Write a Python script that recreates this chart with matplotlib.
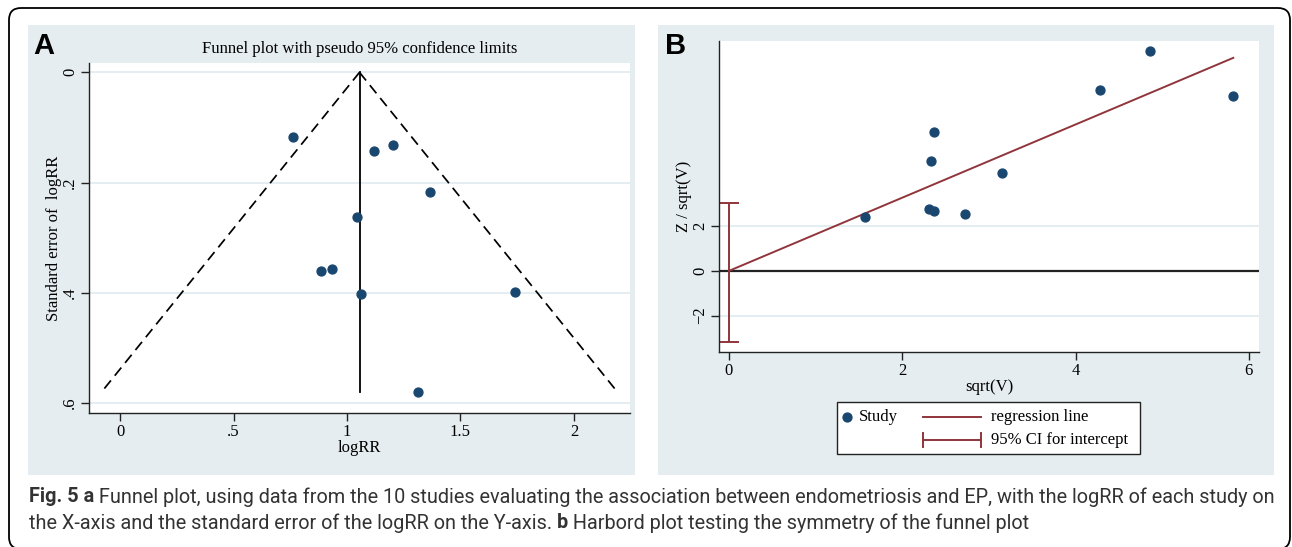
import matplotlib
matplotlib.use("Agg")
import matplotlib.pyplot as plt
from matplotlib.patches import FancyBboxPatch, Rectangle
from matplotlib.lines import Line2D
from matplotlib.transforms import IdentityTransform
from matplotlib import font_manager
import numpy as np

# ---------------- data ----------------
funnel_logrr = [0.764, 1.118, 1.204, 1.364, 1.044, 0.885, 0.933, 1.062, 1.740, 1.313]
funnel_se = [0.117, 0.143, 0.132, 0.217, 0.262, 0.361, 0.357, 0.402, 0.399, 0.580]
pooled_logrr = 1.055

harbord_sqrtv = [1.573, 2.305, 2.371, 2.721, 2.329, 2.362, 3.155, 4.280, 4.861, 5.820]
harbord_zv = [2.40, 2.76, 2.67, 2.55, 4.93, 6.22, 4.39, 8.12, 9.85, 7.84]
reg_intercept = 0.0
reg_slope = 1.64
ci_intercept = [-3.20, 3.06]

a_xticks = [0, 0.5, 1, 1.5, 2]
a_xticklabels = ["0", ".5", "1", "1.5", "2"]
a_yticks = [0, 0.2, 0.4, 0.6]
a_yticklabels = ["0", ".2", ".4", ".6"]
b_xticks = [0, 2, 4, 6]
b_xticklabels = ["0", "2", "4", "6"]
b_yticks = [-2, 0, 2]
b_yticklabels = ["\u22122", "0", "2"]

# ---------------- style ----------------
W, H = 1292, 547
NAVY = "#1a476f"
CRAN = "#90353b"
PANEL = "#e5edf0"
GRID = "#dfeaf0"
SERIF = "Liberation Serif"
FS = 12

installed = {f.name for f in font_manager.fontManager.ttflist}
if "Liberation Sans Narrow" in installed:
    CAPFONT = "Liberation Sans Narrow"
elif "Roboto" in installed:
    CAPFONT = "Roboto"
else:
    CAPFONT = "Open Sans"

fig = plt.figure(figsize=(W / 100, H / 100), dpi=100)
fig.patch.set_facecolor("white")


def fbox(x0, y0, x1, y1):
    return [x0 / W, 1 - y1 / H, (x1 - x0) / W, (y1 - y0) / H]


def fx(x):
    return x / W


def fy(y):
    return 1 - y / H


# outer rounded border
border = FancyBboxPatch((9, H - 549), 1281, 541,
                        boxstyle="round,pad=0,rounding_size=12",
                        transform=IdentityTransform(), fill=False,
                        ec="black", lw=1.3)
fig.add_artist(border)

# panel backgrounds
for (x0, x1) in [(28, 635), (658, 1274)]:
    fig.add_artist(Rectangle((fx(x0), fy(475)), (x1 - x0) / W, (475 - 25) / H,
                             transform=fig.transFigure, fc=PANEL, ec="none", zorder=0))

fig.text(fx(33), fy(54), "A", fontsize=21, fontweight="bold", family="Liberation Sans",
         ha="left", va="baseline")
fig.text(fx(665), fy(54), "B", fontsize=21, fontweight="bold", family="Liberation Sans",
         ha="left", va="baseline")


def style_axes(ax):
    ax.set_facecolor("white")
    for s in ["top", "right"]:
        ax.spines[s].set_visible(False)
    for s in ["left", "bottom"]:
        ax.spines[s].set_linewidth(1.0)
        ax.spines[s].set_color("#222222")
    ax.tick_params(direction="out", length=6, width=1.0, color="#222222", pad=2,
                   labelsize=FS)
    for lab in ax.get_xticklabels() + ax.get_yticklabels():
        lab.set_family(SERIF)


# ---------------- panel A ----------------
axA = fig.add_axes(fbox(89, 63, 630, 413))
axA.set_xlim(-0.137, 2.247)
axA.set_ylim(0.618, -0.017)
for t in a_yticks:
    axA.axhline(t, color=GRID, lw=1.2, zorder=0)
se_line = np.array([0, max(funnel_se)])
axA.plot(pooled_logrr - 1.96 * se_line, se_line, ls=(0, (6, 3.5)), color="black", lw=1.25)
axA.plot(pooled_logrr + 1.96 * se_line, se_line, ls=(0, (6, 3.5)), color="black", lw=1.25)
axA.plot([pooled_logrr, pooled_logrr], se_line, color="black", lw=1.3)
axA.plot(funnel_logrr, funnel_se, "o", color=NAVY, ms=6.4, mec=NAVY, zorder=3)
axA.set_xticks(a_xticks)
axA.set_xticklabels(a_xticklabels)
axA.set_yticks(a_yticks)
axA.set_yticklabels(a_yticklabels, rotation=90, va="center")
style_axes(axA)
axA.set_xlabel("logRR", family=SERIF, fontsize=FS, labelpad=0)
axA.set_ylabel("Standard error of  logRR", family=SERIF, fontsize=FS, labelpad=0)
axA.set_title("Funnel plot with pseudo 95% confidence limits", family=SERIF,
              fontsize=FS, pad=7)

# ---------------- panel B ----------------
axB = fig.add_axes(fbox(719, 41, 1259, 352))
axB.set_xlim(-0.113, 6.117)
axB.set_ylim(-3.63, 10.3)
for t in b_yticks:
    if t != 0:
        axB.axhline(t, color=GRID, lw=1.2, zorder=0)
axB.axhline(0, color="#222222", lw=1.6, zorder=1)
xr = np.array([0, max(harbord_sqrtv)])
axB.plot(xr, reg_intercept + reg_slope * xr, color=CRAN, lw=1.4, zorder=2)
axB.errorbar([0], [(ci_intercept[0] + ci_intercept[1]) / 2],
             yerr=[[(ci_intercept[1] - ci_intercept[0]) / 2]], fmt="none",
             ecolor=CRAN, elinewidth=1.4, capsize=7, capthick=1.4, zorder=2)
axB.plot(harbord_sqrtv, harbord_zv, "o", color=NAVY, ms=6.4, mec=NAVY, zorder=3)
axB.set_xticks(b_xticks)
axB.set_xticklabels(b_xticklabels)
axB.set_yticks(b_yticks)
axB.set_yticklabels(b_yticklabels, rotation=90, va="center")
style_axes(axB)
axB.set_xlabel("sqrt(V)", family=SERIF, fontsize=FS, labelpad=0)
axB.set_ylabel("Z / sqrt(V)", family=SERIF, fontsize=FS, labelpad=0)

# legend (manual, Stata style)
fig.add_artist(Rectangle((fx(837), fy(454)), (1140 - 837) / W, (454 - 402) / H,
                         transform=fig.transFigure, fc="white", ec="#222222", lw=1.0))
fig.add_artist(Line2D([fx(847)], [fy(417)], marker="o", color=NAVY, ms=6.4,
                      transform=fig.transFigure))
fig.text(fx(859), fy(417), "Study", family=SERIF, fontsize=FS, va="center", ha="left")
fig.add_artist(Line2D([fx(923), fx(981)], [fy(417), fy(417)], color=CRAN, lw=1.4,
                      transform=fig.transFigure))
fig.text(fx(991), fy(417), "regression line", family=SERIF, fontsize=FS, va="center", ha="left")
fig.add_artist(Line2D([fx(923), fx(981)], [fy(440), fy(440)], color=CRAN, lw=1.4,
                      transform=fig.transFigure))
for xc in (923, 981):
    fig.add_artist(Line2D([fx(xc), fx(xc)], [fy(433), fy(447)], color=CRAN, lw=1.4,
                          transform=fig.transFigure))
fig.text(fx(991), fy(440), "95% CI for intercept", family=SERIF, fontsize=FS,
         va="center", ha="left")

# ---------------- caption ----------------
cap_lines = [
    [("Fig. 5 a", "bold"),
     (" Funnel plot, using data from the 10 studies evaluating the association between "
      "endometriosis and EP, with the logRR of each study on", "normal")],
    [("the X-axis and the standard error of the logRR on the Y-axis.", "normal"),
     (" b", "bold"),
     (" Harbord plot testing the symmetry of the funnel plot", "normal")],
]
renderer = fig.canvas.get_renderer()


def seg_width(s, weight, size):
    t = fig.text(0, 0, s.replace(" ", "\u00a0"), family=CAPFONT, fontweight=weight,
                 fontsize=size)
    w = t.get_window_extent(renderer).width
    t.remove()
    return w


base = 10
w1 = sum(seg_width(s, wt, base) for s, wt in cap_lines[0])
cap_size = base * (1275 - 29) / w1
cap_size = min(cap_size, 14.5)
for line, yc in zip(cap_lines, [497, 523]):
    x = 29
    for s, wt in line:
        fig.text(fx(x), fy(yc), s.replace(" ", "\u00a0"), family=CAPFONT,
                 fontweight=wt, fontsize=cap_size, color="#333333",
                 va="center", ha="left")
        x += seg_width(s, wt, cap_size)

fig.savefig("out.png", dpi=100, facecolor="white")
